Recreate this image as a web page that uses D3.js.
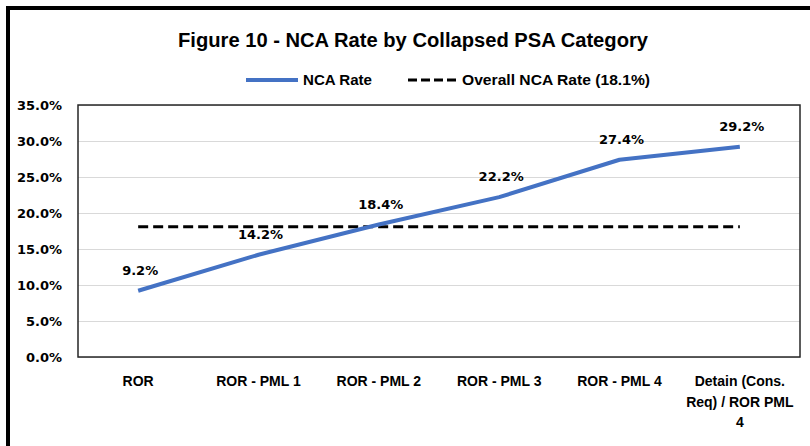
<!DOCTYPE html>
<html>
<head>
<meta charset="utf-8">
<script src="https://cdn.jsdelivr.net/npm/d3@7"></script>
<style>
  body { margin: 0; background: #fff; }
  svg { display: block; }
</style>
</head>
<body>
<svg id="chart" width="810" height="446"></svg>
<script>
var categories = ['ROR', 'ROR - PML 1', 'ROR - PML 2', 'ROR - PML 3', 'ROR - PML 4', 'Detain (Cons.\nReq) / ROR PML\n4'];
var ncaRate = [9.2, 14.2, 18.4, 22.2, 27.4, 29.2];
var overallRate = 18.1;
var yTicks = [0, 5, 10, 15, 20, 25, 30, 35];

var svg = d3.select('svg#chart');

// plot area edges ("top" is taken by window.top, so use plot* names)
var plotLeft = 78, plotRight = 800, plotTop = 105, plotBottom = 357;

var x = d3.scaleBand().domain(categories).range([plotLeft, plotRight]);
var y = d3.scaleLinear().domain([0, 35]).range([plotBottom, plotTop]);

// outer frame (only left and top edges are visible)
svg.append('path')
  .attr('d', 'M8,446 V8 H810')
  .attr('fill', 'none')
  .attr('stroke', '#000')
  .attr('stroke-width', 4);

// title
svg.append('text')
  .attr('x', 413).attr('y', 47)
  .attr('text-anchor', 'middle')
  .attr('textLength', 470).attr('lengthAdjust', 'spacingAndGlyphs')
  .style('font', 'bold 20px "Liberation Sans", Arial, sans-serif')
  .text('Figure 10 - NCA Rate by Collapsed PSA Category');

// legend
var leg = svg.append('g').style('font', 'bold 14px "Liberation Sans", Arial, sans-serif');
leg.append('line').attr('x1', 246).attr('x2', 298).attr('y1', 80).attr('y2', 80)
  .attr('stroke', '#4472C4').attr('stroke-width', 4);
leg.append('text').attr('x', 303).attr('y', 85)
  .attr('textLength', 69).attr('lengthAdjust', 'spacingAndGlyphs')
  .text('NCA Rate');
leg.append('line').attr('x1', 408).attr('x2', 457).attr('y1', 80).attr('y2', 80)
  .attr('stroke', '#000').attr('stroke-width', 3).attr('stroke-dasharray', '9,4');
leg.append('text').attr('x', 462).attr('y', 85)
  .attr('textLength', 188).attr('lengthAdjust', 'spacingAndGlyphs')
  .text('Overall NCA Rate (18.1%)');

// gridlines
svg.append('g')
  .attr('transform', 'translate(' + plotLeft + ',0)')
  .call(d3.axisLeft(y).tickValues(yTicks).tickSize(-(plotRight - plotLeft)).tickFormat(''))
  .call(function(g) { g.select('.domain').remove(); })
  .selectAll('line').attr('stroke', '#d9d9d9').attr('stroke-width', 1);

// plot border
svg.append('rect')
  .attr('x', plotLeft).attr('y', plotTop)
  .attr('width', plotRight - plotLeft).attr('height', plotBottom - plotTop)
  .attr('fill', 'none').attr('stroke', '#262626').attr('stroke-width', 1.5);

// y axis labels
svg.append('g')
  .attr('transform', 'translate(' + plotLeft + ',0)')
  .call(d3.axisLeft(y).tickValues(yTicks).tickSize(0).tickPadding(16)
    .tickFormat(function(d) { return d.toFixed(1) + '%'; }))
  .call(function(g) { g.select('.domain').remove(); })
  .selectAll('text')
  .attr('fill', '#000')
  .style('font', 'bold 13px "DejaVu Sans", Verdana, sans-serif');

// x axis labels
var xAxis = svg.append('g')
  .attr('transform', 'translate(0,' + plotBottom + ')')
  .call(d3.axisBottom(x).tickSize(0))
  .call(function(g) { g.select('.domain').remove(); });

xAxis.selectAll('text')
  .attr('fill', '#000')
  .style('font', 'bold 14px "Liberation Sans", Arial, sans-serif')
  .each(function(d) {
    var t = d3.select(this);
    var lines = d.split('\n');
    t.text(null).attr('y', 29).attr('dy', null);
    lines.forEach(function(l, i) {
      t.append('tspan').attr('x', 0).attr('dy', i === 0 ? 0 : 20.5).text(l);
    });
  });

// overall dashed line
svg.append('line')
  .attr('x1', x(categories[0]) + x.bandwidth() / 2)
  .attr('x2', x(categories[categories.length - 1]) + x.bandwidth() / 2)
  .attr('y1', y(overallRate)).attr('y2', y(overallRate))
  .attr('stroke', '#000').attr('stroke-width', 3).attr('stroke-dasharray', '10,5');

// NCA rate line
var line = d3.line()
  .x(function(d, i) { return x(categories[i]) + x.bandwidth() / 2; })
  .y(function(d) { return y(d); });

svg.append('path')
  .datum(ncaRate)
  .attr('d', line)
  .attr('fill', 'none')
  .attr('stroke', '#4472C4')
  .attr('stroke-width', 4)
  .attr('stroke-linejoin', 'round');

// data labels
svg.append('g')
  .selectAll('text')
  .data(ncaRate)
  .join('text')
  .attr('x', function(d, i) { return x(categories[i]) + x.bandwidth() / 2 + 2; })
  .attr('y', function(d) { return y(d) - 16; })
  .attr('text-anchor', 'middle')
  .style('font', 'bold 13px "DejaVu Sans", Verdana, sans-serif')
  .text(function(d) { return d.toFixed(1) + '%'; });
</script>
</body>
</html>
